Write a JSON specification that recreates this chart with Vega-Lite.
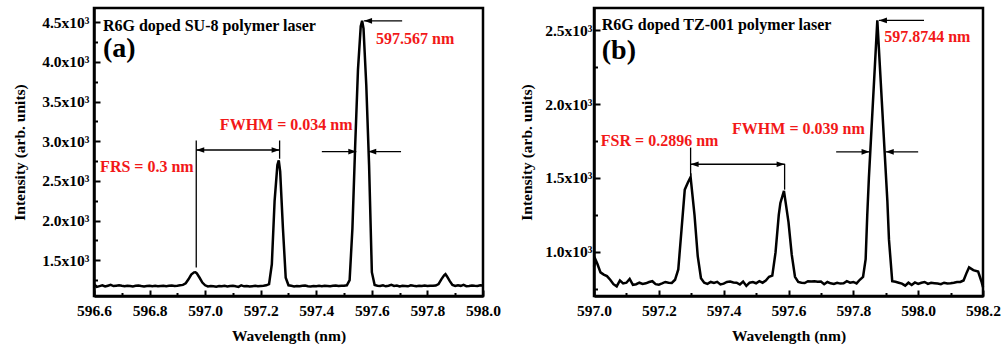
{
  "$schema": "https://vega.github.io/schema/vega-lite/v6.json",
  "padding": {"left": 11, "top": 6, "right": 2, "bottom": 2},
  "background": "white",
  "bounds": "flush",
  "spacing": 111,
  "config": {
    "view": {"stroke": "black", "strokeWidth": 2.5},
    "axis": {
      "labelFont": "Liberation Serif", "labelFontWeight": "bold", "labelFontSize": 15.5, "labelColor": "black",
      "titleFont": "Liberation Serif", "titleFontWeight": "bold", "titleFontSize": 15.5, "titleColor": "black",
      "domainColor": "black", "domainWidth": 2.5, "tickColor": "black", "tickWidth": 2, "grid": false, "labelFlush": false, "labelOverlap": false
    },
    "text": {"font": "Liberation Serif", "fontWeight": "bold"}
  },
  "datasets": {
    "specA": [
      {"wl":596.60,"v":1200},{"wl":596.61,"v":1165},{"wl":596.62,"v":1175},{"wl":596.63,"v":1185},{"wl":596.64,"v":1170},{"wl":596.65,"v":1180},{"wl":596.66,"v":1190},{"wl":596.67,"v":1175},{"wl":596.68,"v":1180},{"wl":596.69,"v":1185},
      {"wl":596.70,"v":1178},{"wl":596.71,"v":1172},{"wl":596.72,"v":1180},{"wl":596.73,"v":1176},{"wl":596.74,"v":1170},{"wl":596.75,"v":1178},{"wl":596.76,"v":1182},{"wl":596.77,"v":1175},{"wl":596.78,"v":1170},{"wl":596.79,"v":1176},
      {"wl":596.80,"v":1180},{"wl":596.81,"v":1174},{"wl":596.82,"v":1178},{"wl":596.83,"v":1172},{"wl":596.84,"v":1176},{"wl":596.85,"v":1180},{"wl":596.86,"v":1174},{"wl":596.87,"v":1178},{"wl":596.88,"v":1182},{"wl":596.89,"v":1176},
      {"wl":596.90,"v":1180},{"wl":596.91,"v":1185},{"wl":596.92,"v":1190},{"wl":596.93,"v":1210},{"wl":596.94,"v":1260},{"wl":596.95,"v":1320},{"wl":596.96,"v":1348},{"wl":596.965,"v":1350},{"wl":596.97,"v":1335},{"wl":596.98,"v":1280},{"wl":596.99,"v":1220},
      {"wl":597.00,"v":1185},{"wl":597.01,"v":1170},{"wl":597.02,"v":1175},{"wl":597.03,"v":1172},{"wl":597.04,"v":1168},{"wl":597.05,"v":1176},{"wl":597.06,"v":1172},{"wl":597.07,"v":1178},{"wl":597.08,"v":1170},{"wl":597.09,"v":1175},
      {"wl":597.10,"v":1180},{"wl":597.11,"v":1172},{"wl":597.12,"v":1165},{"wl":597.13,"v":1185},{"wl":597.14,"v":1172},{"wl":597.15,"v":1176},{"wl":597.16,"v":1170},{"wl":597.17,"v":1174},{"wl":597.18,"v":1178},{"wl":597.19,"v":1172},
      {"wl":597.20,"v":1176},{"wl":597.21,"v":1180},{"wl":597.22,"v":1185},{"wl":597.23,"v":1200},{"wl":597.24,"v":1450},{"wl":597.25,"v":2250},{"wl":597.26,"v":2700},{"wl":597.265,"v":2760},{"wl":597.27,"v":2620},{"wl":597.28,"v":1900},{"wl":597.29,"v":1280},
      {"wl":597.30,"v":1185},{"wl":597.31,"v":1178},{"wl":597.32,"v":1170},{"wl":597.33,"v":1176},{"wl":597.34,"v":1172},{"wl":597.35,"v":1178},{"wl":597.36,"v":1182},{"wl":597.37,"v":1174},{"wl":597.38,"v":1170},{"wl":597.39,"v":1176},
      {"wl":597.40,"v":1172},{"wl":597.41,"v":1178},{"wl":597.42,"v":1174},{"wl":597.43,"v":1180},{"wl":597.44,"v":1176},{"wl":597.45,"v":1172},{"wl":597.46,"v":1178},{"wl":597.47,"v":1182},{"wl":597.48,"v":1175},{"wl":597.49,"v":1180},
      {"wl":597.50,"v":1178},{"wl":597.51,"v":1185},{"wl":597.52,"v":1250},{"wl":597.53,"v":1900},{"wl":597.54,"v":2950},{"wl":597.55,"v":3900},{"wl":597.56,"v":4450},{"wl":597.565,"v":4520},{"wl":597.57,"v":4420},{"wl":597.58,"v":3700},{"wl":597.59,"v":2700},
      {"wl":597.60,"v":1350},{"wl":597.61,"v":1190},{"wl":597.62,"v":1180},{"wl":597.63,"v":1176},{"wl":597.64,"v":1184},{"wl":597.65,"v":1172},{"wl":597.66,"v":1180},{"wl":597.67,"v":1190},{"wl":597.68,"v":1176},{"wl":597.69,"v":1182},
      {"wl":597.70,"v":1170},{"wl":597.71,"v":1180},{"wl":597.72,"v":1176},{"wl":597.73,"v":1172},{"wl":597.74,"v":1184},{"wl":597.75,"v":1178},{"wl":597.76,"v":1174},{"wl":597.77,"v":1180},{"wl":597.78,"v":1176},{"wl":597.79,"v":1182},
      {"wl":597.80,"v":1176},{"wl":597.81,"v":1180},{"wl":597.82,"v":1178},{"wl":597.83,"v":1182},{"wl":597.84,"v":1200},{"wl":597.85,"v":1260},{"wl":597.86,"v":1310},{"wl":597.865,"v":1325},{"wl":597.87,"v":1300},{"wl":597.88,"v":1240},{"wl":597.89,"v":1190},
      {"wl":597.90,"v":1176},{"wl":597.91,"v":1185},{"wl":597.92,"v":1178},{"wl":597.93,"v":1190},{"wl":597.94,"v":1174},{"wl":597.95,"v":1176},{"wl":597.96,"v":1182},{"wl":597.97,"v":1178},{"wl":597.98,"v":1176},{"wl":597.99,"v":1184},{"wl":598.00,"v":1182}
    ],
    "specB": [
      {"wl":597.00,"v":900},{"wl":597.005,"v":945},{"wl":597.01,"v":920},{"wl":597.02,"v":860},{"wl":597.03,"v":845},{"wl":597.04,"v":835},{"wl":597.05,"v":810},{"wl":597.06,"v":780},{"wl":597.07,"v":765},{"wl":597.08,"v":805},{"wl":597.09,"v":785},
      {"wl":597.10,"v":790},{"wl":597.11,"v":815},{"wl":597.12,"v":775},{"wl":597.13,"v":780},{"wl":597.14,"v":790},{"wl":597.15,"v":782},{"wl":597.16,"v":786},{"wl":597.17,"v":795},{"wl":597.18,"v":800},{"wl":597.19,"v":780},
      {"wl":597.20,"v":777},{"wl":597.21,"v":785},{"wl":597.22,"v":795},{"wl":597.23,"v":790},{"wl":597.24,"v":788},{"wl":597.25,"v":810},{"wl":597.26,"v":880},{"wl":597.27,"v":1150},{"wl":597.28,"v":1420},{"wl":597.29,"v":1470},{"wl":597.298,"v":1505},
      {"wl":597.31,"v":1250},{"wl":597.32,"v":970},{"wl":597.33,"v":820},{"wl":597.34,"v":790},{"wl":597.35,"v":782},{"wl":597.36,"v":795},{"wl":597.37,"v":788},{"wl":597.38,"v":796},{"wl":597.39,"v":778},
      {"wl":597.40,"v":784},{"wl":597.41,"v":795},{"wl":597.42,"v":798},{"wl":597.43,"v":792},{"wl":597.44,"v":790},{"wl":597.45,"v":778},{"wl":597.46,"v":798},{"wl":597.47,"v":768},{"wl":597.48,"v":790},{"wl":597.49,"v":794},
      {"wl":597.50,"v":786},{"wl":597.51,"v":800},{"wl":597.52,"v":790},{"wl":597.53,"v":805},{"wl":597.54,"v":830},{"wl":597.55,"v":838},{"wl":597.56,"v":995},{"wl":597.57,"v":1250},{"wl":597.575,"v":1330},{"wl":597.586,"v":1412},
      {"wl":597.60,"v":1200},{"wl":597.61,"v":980},{"wl":597.62,"v":830},{"wl":597.63,"v":795},{"wl":597.64,"v":790},{"wl":597.65,"v":788},{"wl":597.66,"v":800},{"wl":597.67,"v":798},{"wl":597.68,"v":800},{"wl":597.69,"v":796},
      {"wl":597.70,"v":798},{"wl":597.71,"v":780},{"wl":597.72,"v":795},{"wl":597.73,"v":786},{"wl":597.74,"v":782},{"wl":597.75,"v":790},{"wl":597.76,"v":784},{"wl":597.77,"v":786},{"wl":597.78,"v":800},{"wl":597.79,"v":790},
      {"wl":597.80,"v":795},{"wl":597.81,"v":785},{"wl":597.82,"v":810},{"wl":597.83,"v":830},{"wl":597.838,"v":950},{"wl":597.843,"v":1250},{"wl":597.848,"v":1500},{"wl":597.874,"v":2566},{"wl":597.905,"v":1342},{"wl":597.91,"v":1080},
      {"wl":597.92,"v":800},{"wl":597.93,"v":796},{"wl":597.94,"v":790},{"wl":597.95,"v":784},{"wl":597.96,"v":770},{"wl":597.97,"v":790},{"wl":597.98,"v":775},{"wl":597.99,"v":792},
      {"wl":598.00,"v":782},{"wl":598.01,"v":790},{"wl":598.02,"v":795},{"wl":598.03,"v":782},{"wl":598.04,"v":790},{"wl":598.05,"v":787},{"wl":598.06,"v":784},{"wl":598.07,"v":780},{"wl":598.08,"v":790},{"wl":598.09,"v":785},
      {"wl":598.10,"v":786},{"wl":598.11,"v":790},{"wl":598.12,"v":795},{"wl":598.13,"v":795},{"wl":598.14,"v":805},{"wl":598.15,"v":860},{"wl":598.157,"v":894},{"wl":598.17,"v":875},{"wl":598.185,"v":866},{"wl":598.195,"v":800},{"wl":598.20,"v":760}
    ],
    "rulesA": [
      {"x":596.968,"x2":596.968,"y":1410,"y2":3010},
      {"x":597.268,"x2":597.268,"y":2780,"y2":3010},
      {"x":596.968,"x2":597.268,"y":2890,"y2":2890},
      {"x":597.42,"x2":597.544,"y":2870,"y2":2870},
      {"x":597.587,"x2":597.705,"y":2870,"y2":2870},
      {"x":597.572,"x2":597.709,"y":4518,"y2":4518}
    ],
    "headsA": [
      {"x":596.968,"y":2890,"dir":"left"},
      {"x":597.268,"y":2890,"dir":"right"},
      {"x":597.544,"y":2870,"dir":"right"},
      {"x":597.587,"y":2870,"dir":"left"},
      {"x":597.572,"y":4518,"dir":"left"}
    ],
    "notesA": [
      {"x":596.632,"y":4458,"text":"R6G doped SU-8 polymer laser","kind":"title"},
      {"x":596.632,"y":4157,"text":"(a)","kind":"panel"},
      {"x":597.615,"y":4295,"text":"597.567 nm","kind":"value"},
      {"x":597.053,"y":3201,"text":"FWHM = 0.034 nm","kind":"value"},
      {"x":596.622,"y":2673,"text":"FRS = 0.3 nm","kind":"value"}
    ],
    "rulesB": [
      {"x":597.298,"x2":597.298,"y":1515,"y2":1705},
      {"x":597.588,"x2":597.588,"y":1420,"y2":1595},
      {"x":597.298,"x2":597.588,"y":1592,"y2":1592},
      {"x":597.747,"x2":597.850,"y":1676,"y2":1676},
      {"x":597.900,"x2":598.0,"y":1676,"y2":1676},
      {"x":597.879,"x2":598.018,"y":2566,"y2":2566}
    ],
    "headsB": [
      {"x":597.298,"y":1592,"dir":"left"},
      {"x":597.588,"y":1592,"dir":"right"},
      {"x":597.850,"y":1676,"dir":"right"},
      {"x":597.900,"y":1676,"dir":"left"},
      {"x":597.879,"y":2566,"dir":"left"}
    ],
    "notesB": [
      {"x":597.024,"y":2534,"text":"R6G doped TZ-001 polymer laser","kind":"title"},
      {"x":597.024,"y":2358,"text":"(b)","kind":"panel"},
      {"x":597.895,"y":2453,"text":"597.8744 nm","kind":"value"},
      {"x":597.426,"y":1833,"text":"FWHM = 0.039 nm","kind":"value"},
      {"x":597.021,"y":1750,"text":"FSR = 0.2896 nm","kind":"value"}
    ]
  },
  "hconcat": [
    {
      "width": 389, "height": 288,
      "resolve": {"axis": {"x": "independent", "y": "independent"}},
      "layer": [
        {
          "data": {"name": "specA"},
          "mark": {"type": "line", "color": "black", "strokeWidth": 2.5},
          "encoding": {
            "x": {"field": "wl", "type": "quantitative", "scale": {"domain": [596.6, 598.0], "nice": false, "zero": false},
              "axis": {"orient": "bottom", "values": [596.6, 596.8, 597.0, 597.2, 597.4, 597.6, 597.8, 598.0], "format": ".1f", "title": "Wavelength (nm)", "tickSize": -6, "labelPadding": 13, "titlePadding": 10}},
            "y": {"field": "v", "type": "quantitative", "scale": {"domain": [1050, 4680], "nice": false, "zero": false},
              "axis": {"orient": "left", "values": [1500, 2000, 2500, 3000, 3500, 4000, 4500], "labelExpr": "format(datum.value/1000,'.1f')+'x10³'", "title": "Intensity (arb. units)", "tickSize": -6, "labelPadding": 11, "titlePadding": 14}}
          }
        },
        {
          "data": {"name": "rulesA"},
          "mark": {"type": "rule", "color": "black", "strokeWidth": 1.3},
          "encoding": {
            "x": {"field": "x", "type": "quantitative", "scale": {"domain": [596.6, 598.0], "nice": false, "zero": false},
              "axis": {"orient": "bottom", "values": [596.7, 596.9, 597.1, 597.3, 597.5, 597.7, 597.9], "labels": false, "domain": false, "tickSize": -3.5, "title": null}},
            "x2": {"field": "x2"},
            "y": {"field": "y", "type": "quantitative", "scale": {"domain": [1050, 4680], "nice": false, "zero": false},
              "axis": {"orient": "left", "values": [1250, 1750, 2250, 2750, 3250, 3750, 4250], "labels": false, "domain": false, "tickSize": -3.5, "title": null}},
            "y2": {"field": "y2"}
          }
        },
        {
          "data": {"name": "headsA"},
          "mark": {"type": "point", "filled": true, "color": "black", "opacity": 1, "size": 256, "strokeWidth": 0},
          "encoding": {
            "x": {"field": "x", "type": "quantitative", "scale": {"domain": [596.6, 598.0], "nice": false, "zero": false}, "axis": null},
            "y": {"field": "y", "type": "quantitative", "scale": {"domain": [1050, 4680], "nice": false, "zero": false}, "axis": null},
            "shape": {"field": "dir", "type": "nominal", "scale": {"domain": ["left", "right"], "range": ["M0,0L1,-0.35L1,0.35Z", "M0,0L-1,-0.35L-1,0.35Z"]}, "legend": null}
          }
        },
        {
          "data": {"name": "notesA"},
          "transform": [{"filter": "datum.kind === 'title'"}],
          "mark": {"type": "text", "align": "left", "baseline": "middle", "fontSize": 16, "color": "black"},
          "encoding": {
            "x": {"field": "x", "type": "quantitative", "scale": {"domain": [596.6, 598.0], "nice": false, "zero": false}, "axis": null},
            "y": {"field": "y", "type": "quantitative", "scale": {"domain": [1050, 4680], "nice": false, "zero": false}, "axis": null},
            "text": {"field": "text"}
          }
        },
        {
          "data": {"name": "notesA"},
          "transform": [{"filter": "datum.kind === 'panel'"}],
          "mark": {"type": "text", "align": "left", "baseline": "middle", "fontSize": 28, "color": "black"},
          "encoding": {
            "x": {"field": "x", "type": "quantitative", "scale": {"domain": [596.6, 598.0], "nice": false, "zero": false}, "axis": null},
            "y": {"field": "y", "type": "quantitative", "scale": {"domain": [1050, 4680], "nice": false, "zero": false}, "axis": null},
            "text": {"field": "text"}
          }
        },
        {
          "data": {"name": "notesA"},
          "transform": [{"filter": "datum.kind === 'value'"}],
          "mark": {"type": "text", "align": "left", "baseline": "middle", "fontSize": 16, "color": "#f21818"},
          "encoding": {
            "x": {"field": "x", "type": "quantitative", "scale": {"domain": [596.6, 598.0], "nice": false, "zero": false}, "axis": null},
            "y": {"field": "y", "type": "quantitative", "scale": {"domain": [1050, 4680], "nice": false, "zero": false}, "axis": null},
            "text": {"field": "text"}
          }
        }
      ]
    },
    {
      "width": 389, "height": 288,
      "resolve": {"axis": {"x": "independent", "y": "independent"}},
      "layer": [
        {
          "data": {"name": "specB"},
          "mark": {"type": "line", "color": "black", "strokeWidth": 2.5},
          "encoding": {
            "x": {"field": "wl", "type": "quantitative", "scale": {"domain": [597.0, 598.2], "nice": false, "zero": false},
              "axis": {"orient": "bottom", "values": [597.0, 597.2, 597.4, 597.6, 597.8, 598.0, 598.2], "format": ".1f", "title": "Wavelength (nm)", "tickSize": -6, "labelPadding": 13, "titlePadding": 10}},
            "y": {"field": "v", "type": "quantitative", "scale": {"domain": [700, 2650], "nice": false, "zero": false},
              "axis": {"orient": "left", "values": [1000, 1500, 2000, 2500], "labelExpr": "format(datum.value/1000,'.1f')+'x10³'", "title": "Intensity (arb. units)", "tickSize": -6, "labelPadding": 8, "titlePadding": 10}}
          }
        },
        {
          "data": {"name": "rulesB"},
          "mark": {"type": "rule", "color": "black", "strokeWidth": 1.3},
          "encoding": {
            "x": {"field": "x", "type": "quantitative", "scale": {"domain": [597.0, 598.2], "nice": false, "zero": false},
              "axis": {"orient": "bottom", "values": [597.1, 597.3, 597.5, 597.7, 597.9, 598.1], "labels": false, "domain": false, "tickSize": -3.5, "title": null}},
            "x2": {"field": "x2"},
            "y": {"field": "y", "type": "quantitative", "scale": {"domain": [700, 2650], "nice": false, "zero": false},
              "axis": {"orient": "left", "values": [750, 1250, 1750, 2250], "labels": false, "domain": false, "tickSize": -3.5, "title": null}},
            "y2": {"field": "y2"}
          }
        },
        {
          "data": {"name": "headsB"},
          "mark": {"type": "point", "filled": true, "color": "black", "opacity": 1, "size": 256, "strokeWidth": 0},
          "encoding": {
            "x": {"field": "x", "type": "quantitative", "scale": {"domain": [597.0, 598.2], "nice": false, "zero": false}, "axis": null},
            "y": {"field": "y", "type": "quantitative", "scale": {"domain": [700, 2650], "nice": false, "zero": false}, "axis": null},
            "shape": {"field": "dir", "type": "nominal", "scale": {"domain": ["left", "right"], "range": ["M0,0L1,-0.35L1,0.35Z", "M0,0L-1,-0.35L-1,0.35Z"]}, "legend": null}
          }
        },
        {
          "data": {"name": "notesB"},
          "transform": [{"filter": "datum.kind === 'title'"}],
          "mark": {"type": "text", "align": "left", "baseline": "middle", "fontSize": 16, "color": "black"},
          "encoding": {
            "x": {"field": "x", "type": "quantitative", "scale": {"domain": [597.0, 598.2], "nice": false, "zero": false}, "axis": null},
            "y": {"field": "y", "type": "quantitative", "scale": {"domain": [700, 2650], "nice": false, "zero": false}, "axis": null},
            "text": {"field": "text"}
          }
        },
        {
          "data": {"name": "notesB"},
          "transform": [{"filter": "datum.kind === 'panel'"}],
          "mark": {"type": "text", "align": "left", "baseline": "middle", "fontSize": 28, "color": "black"},
          "encoding": {
            "x": {"field": "x", "type": "quantitative", "scale": {"domain": [597.0, 598.2], "nice": false, "zero": false}, "axis": null},
            "y": {"field": "y", "type": "quantitative", "scale": {"domain": [700, 2650], "nice": false, "zero": false}, "axis": null},
            "text": {"field": "text"}
          }
        },
        {
          "data": {"name": "notesB"},
          "transform": [{"filter": "datum.kind === 'value'"}],
          "mark": {"type": "text", "align": "left", "baseline": "middle", "fontSize": 16, "color": "#f21818"},
          "encoding": {
            "x": {"field": "x", "type": "quantitative", "scale": {"domain": [597.0, 598.2], "nice": false, "zero": false}, "axis": null},
            "y": {"field": "y", "type": "quantitative", "scale": {"domain": [700, 2650], "nice": false, "zero": false}, "axis": null},
            "text": {"field": "text"}
          }
        }
      ]
    }
  ]
}
